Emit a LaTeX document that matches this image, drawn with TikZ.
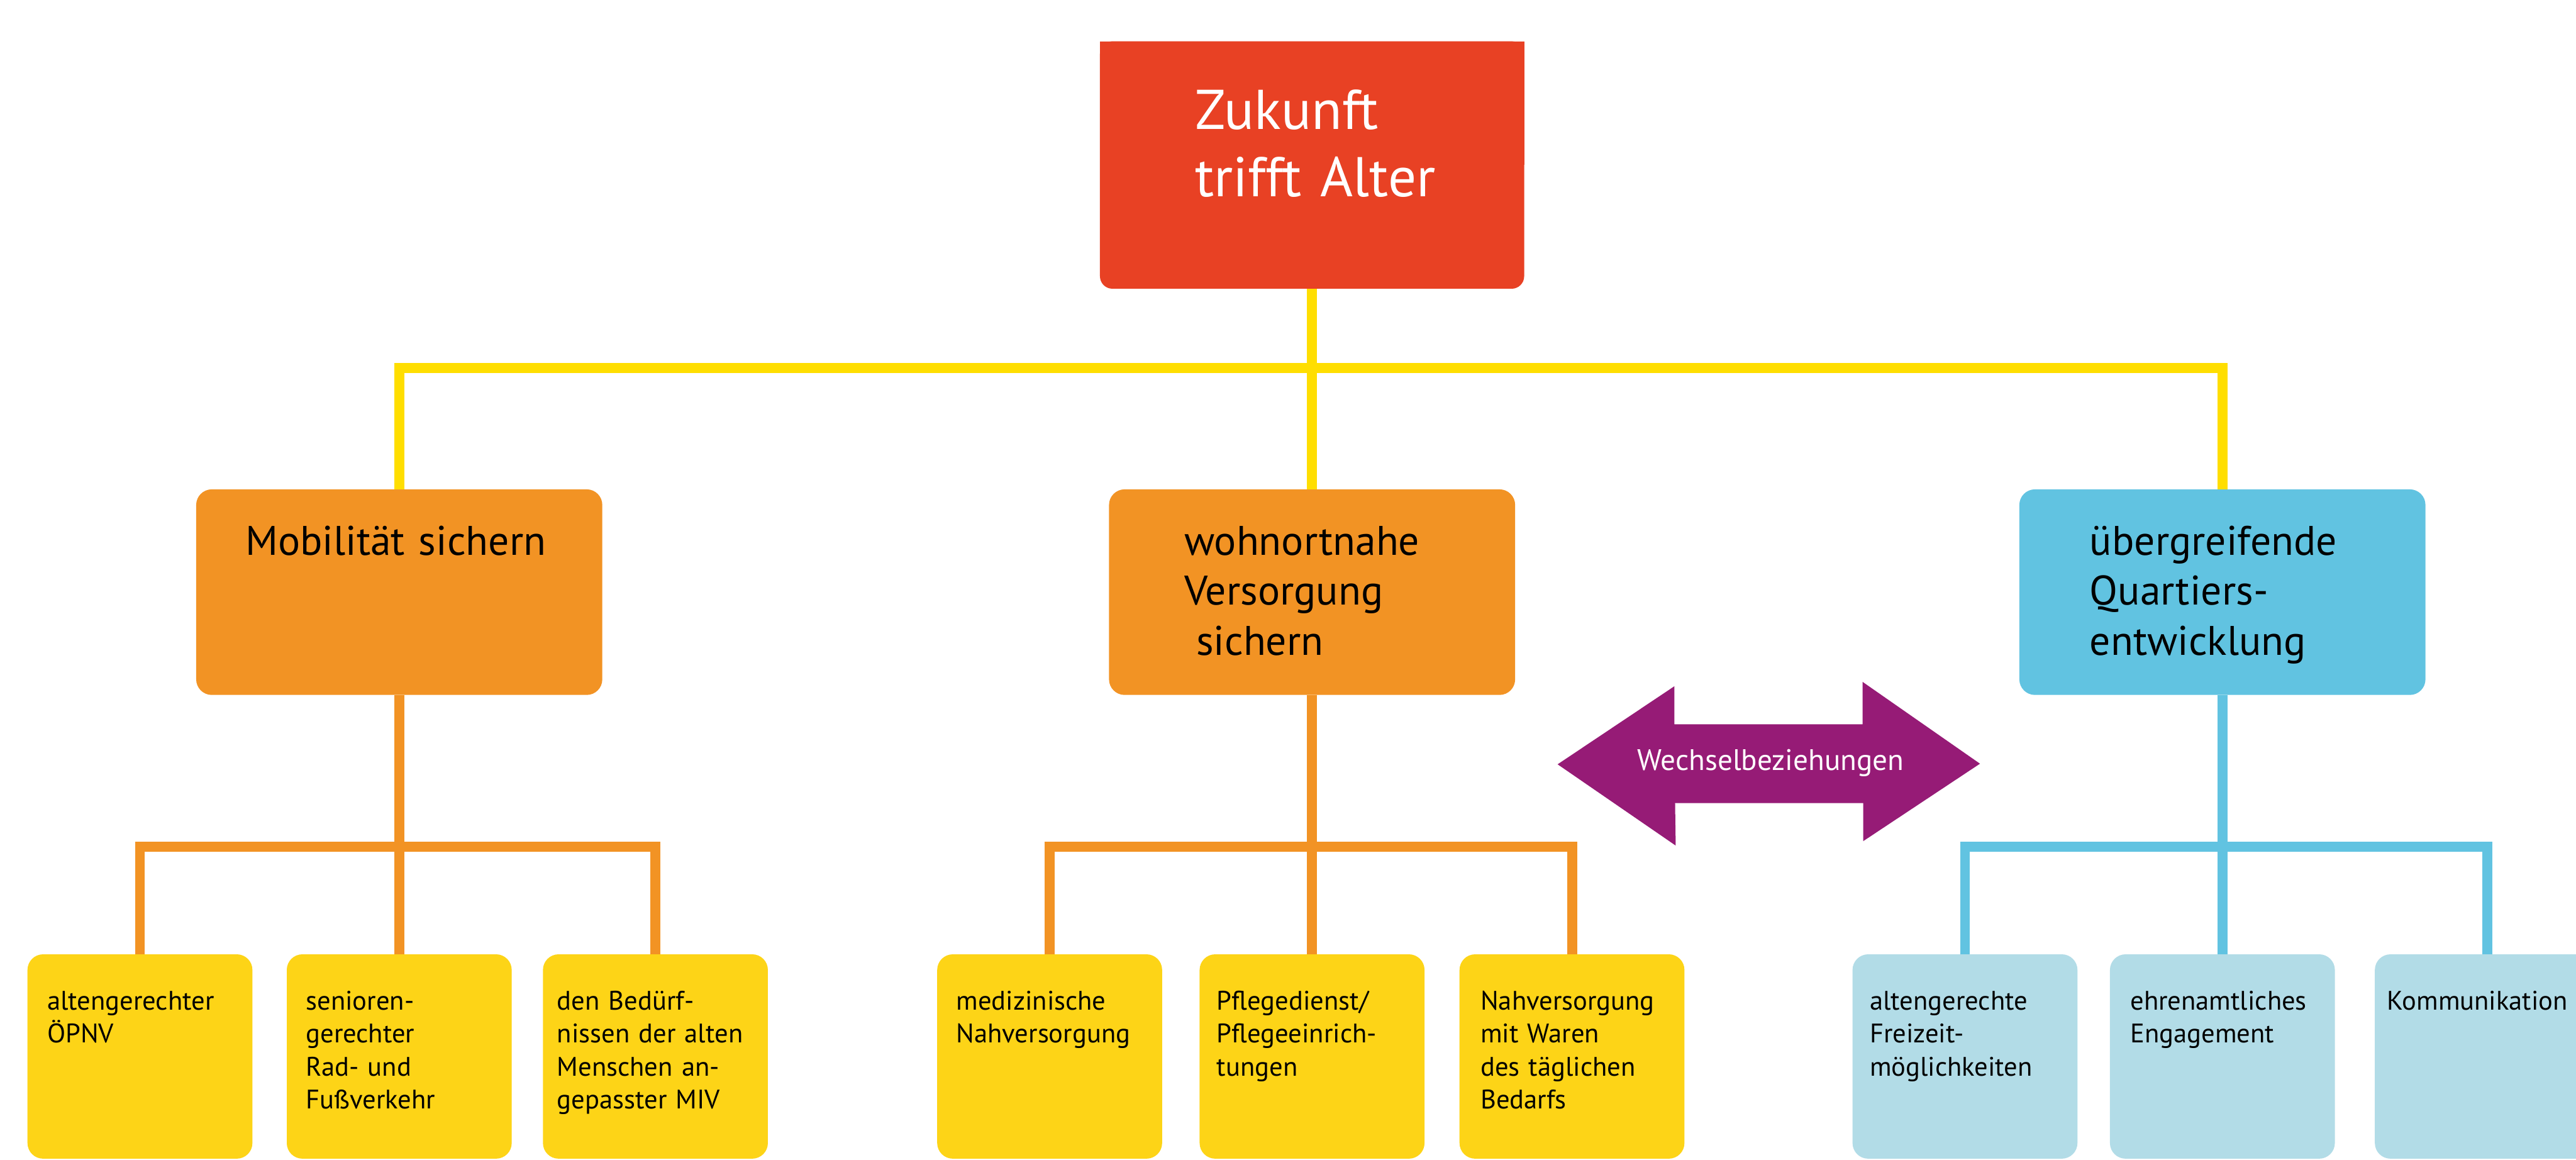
\documentclass[tikz,border=0pt]{standalone}
\usepackage{fontspec}
\setmainfont{PT Sans}
\usepackage{xcolor}
\definecolor{zukunftred}{HTML}{E84124}
\definecolor{mainorange}{HTML}{F29324}
\definecolor{lineyellow}{HTML}{FFDE00}
\definecolor{leafyellow}{HTML}{FDD417}
\definecolor{mainblue}{HTML}{61C3E1}
\definecolor{leafblue}{HTML}{B2DCE7}
\definecolor{wechselpurple}{HTML}{961B76}

\tikzset{
  mainbox/.style={rounded corners=0.25cm, minimum width=6.5cm, minimum height=3.29cm, anchor=north, inner sep=0pt, outer sep=0pt},
  leafbox/.style={rounded corners=0.25cm, minimum width=3.6cm, minimum height=3.27cm, anchor=north, inner sep=0pt, outer sep=0pt},
  toptext/.style={anchor=base west, text=white, align=left, text width=6cm, inner sep=0pt, font=\fontsize{25.5}{30.6}\selectfont},
  maintext/.style={anchor=base west, align=left, text width=6cm, inner sep=0pt, font=\fontsize{18.8}{22.8}\selectfont},
  leaftext/.style={anchor=base west, align=left, text width=4cm, inner sep=0pt, font=\fontsize{12.2}{15}\selectfont},
  conn/.style={line width=0.16cm}
}

\begin{document}
\begin{tikzpicture}
    \useasboundingbox (0,0) rectangle (41.23,-18.56);

    \node[fill=zukunftred, rounded corners=0.2cm, minimum width=6.79cm, minimum height=3.96cm, anchor=north, inner sep=0pt, outer sep=0pt] (zukunft) at (21.00,-0.66) {};
    \fill[zukunftred] (zukunft.north west) rectangle (zukunft.east);
    \node[toptext] (zukunftlabel) at (19.12,-2.07) {Zukunft\\trifft Alter};

    \node[mainbox, fill=mainorange] (mob) at (6.39,-7.83) {};
    \node[mainbox, fill=mainorange] (wohn) at (21.00,-7.83) {};
    \node[mainbox, fill=mainblue] (quart) at (35.57,-7.83) {};
    \node[maintext] (moblabel) at (3.92,-8.88) {Mobilität sichern};
    \node[maintext] (wohnlabel) at (18.95,-8.88) {wohnortnahe\\Versorgung\\\hspace*{0.19cm}sichern};
    \node[maintext] (quartlabel) at (33.44,-8.88) {übergreifende\\Quartiers-\\entwicklung};

    \node[leafbox, fill=leafyellow] (mleafa) at (2.24,-15.27) {};
    \node[leafbox, fill=leafyellow] (mleafb) at (6.39,-15.27) {};
    \node[leafbox, fill=leafyellow] (mleafc) at (10.49,-15.27) {};
    \node[leafbox, fill=leafyellow] (wleafa) at (16.80,-15.27) {};
    \node[leafbox, fill=leafyellow] (wleafb) at (21.00,-15.27) {};
    \node[leafbox, fill=leafyellow] (wleafc) at (25.16,-15.27) {};
    \node[leafbox, fill=leafblue] (qleafa) at (31.45,-15.27) {};
    \node[leafbox, fill=leafblue] (qleafb) at (35.57,-15.27) {};
    \node[leafbox, fill=leafblue] (qleafc) at (39.81,-15.27) {};

    \node[leaftext] (mleafalabel) at (0.75,-16.16) {altengerechter\\ÖPNV};
    \node[leaftext] (mleafblabel) at (4.89,-16.16) {senioren-\\gerechter\\Rad- und\\Fußverkehr};
    \node[leaftext] (mleafclabel) at (8.91,-16.16) {den Bedürf-\\nissen der alten\\Menschen an-\\gepasster MIV};
    \node[leaftext] (wleafalabel) at (15.30,-16.16) {medizinische\\Nahversorgung};
    \node[leaftext] (wleafblabel) at (19.47,-16.16) {Pflegedienst/\\Pflegeeinrich-\\tungen};
    \node[leaftext] (wleafclabel) at (23.69,-16.16) {Nahversorgung\\mit Waren\\des täglichen\\Bedarfs};
    \node[leaftext] (qleafalabel) at (29.92,-16.16) {altengerechte\\Freizeit-\\möglichkeiten};
    \node[leaftext] (qleafblabel) at (34.09,-16.16) {ehrenamtliches\\Engagement};
    \node[leaftext] (qleafclabel) at (38.20,-16.16) {Kommunikation};

    \coordinate (topbar) at (21.00,-5.89);
    \draw[conn, lineyellow] (zukunft.south) -- (wohn.north);
    \draw[conn, lineyellow] (mob.north) |- (topbar) -| (quart.north);

    \coordinate (mobbar) at (6.39,-13.55);
    \draw[conn, mainorange] (mob.south) -- (mleafb.north);
    \draw[conn, mainorange] (mleafa.north) |- (mobbar) -| (mleafc.north);

    \coordinate (wohnbar) at (21.00,-13.55);
    \draw[conn, mainorange] (wohn.south) -- (wleafb.north);
    \draw[conn, mainorange] (wleafa.north) |- (wohnbar) -| (wleafc.north);

    \coordinate (quartbar) at (35.57,-13.55);
    \draw[conn, mainblue] (quart.south) -- (qleafb.north);
    \draw[conn, mainblue] (qleafa.north) |- (quartbar) -| (qleafc.north);

    \fill[wechselpurple] (24.93,-12.23)
        -- (26.80,-10.98)
        -- (26.80,-11.59)
        -- (29.81,-11.59)
        -- (29.81,-10.91)
        -- (31.69,-12.22)
        -- (29.82,-13.46)
        -- (29.82,-12.85)
        -- (26.81,-12.85)
        -- (26.82,-13.53)
        -- cycle;
    \node[anchor=base, text=white, inner sep=0pt, font=\fontsize{13.5}{16}\selectfont] (wechsel) at (28.34,-12.33) {Wechselbeziehungen};
\end{tikzpicture}
\end{document}
